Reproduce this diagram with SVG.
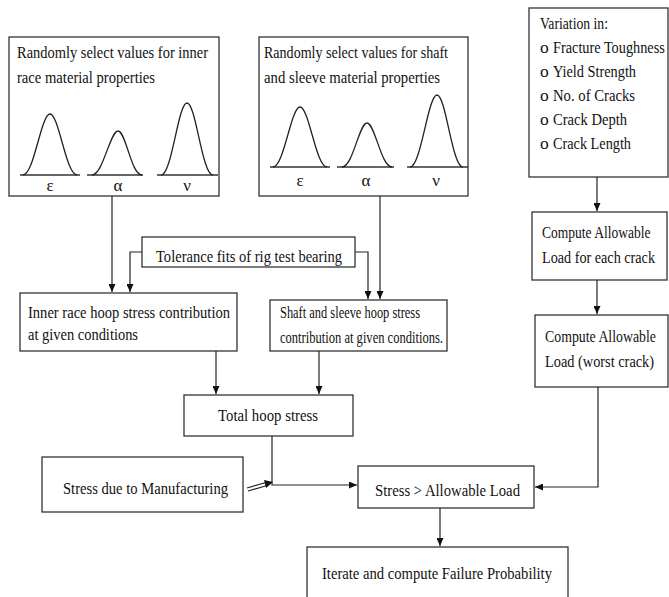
<svg xmlns="http://www.w3.org/2000/svg" width="669" height="597" viewBox="0 0 669 597">
<defs>
<marker id="ah" markerWidth="8" markerHeight="7" refX="8" refY="3.5" orient="auto" markerUnits="userSpaceOnUse">
<path d="M0,0 L8,3.5 L0,7 z" fill="#111"/>
</marker>
<style>
.box{fill:#fff;stroke:#333;stroke-width:1.3}
.t{font-family:"Liberation Serif","Times New Roman",serif;font-size:17.5px;fill:#111}
.s{font-family:"Liberation Serif","Times New Roman",serif;font-size:16.5px;fill:#111}
.g{font-family:"Liberation Serif","DejaVu Serif",serif;font-size:17px;fill:#111;text-anchor:middle}
.c{fill:none;stroke:#222;stroke-width:1.3}
.bl{fill:none;stroke:#333;stroke-width:1.6}
.ln{fill:none;stroke:#222;stroke-width:1.2}
</style>
</defs>
<rect width="669" height="597" fill="#fff"/>

<g id="inner-props">
<rect class="box" x="9" y="37" width="210" height="159"/>
<text class="t" x="17" y="58" textLength="191" lengthAdjust="spacingAndGlyphs">Randomly select values for inner</text>
<text class="t" x="17" y="83" textLength="138" lengthAdjust="spacingAndGlyphs">race material properties</text>
<line class="bl" x1="20" y1="175" x2="80" y2="175"/>
<path class="c" d="M23,175 C34,175 41,114 50,114 C59,114 66,175 77,175"/>
<line class="bl" x1="87" y1="175" x2="143" y2="175"/>
<path class="c" d="M92,175 C103,175 110,131 118,131 C126,131 131,175 142,175"/>
<line class="bl" x1="157" y1="175" x2="218" y2="175"/>
<path class="c" d="M161,175 C172,175 178,103 187,103 C196,103 202,175 213,175"/>
<text class="g" x="50" y="191">ε</text>
<text class="g" x="118" y="191">α</text>
<text class="g" x="187" y="191">ν</text>
</g>

<g id="shaft-props">
<rect class="box" x="259" y="37" width="209" height="159"/>
<text class="t" x="264" y="58" textLength="184" lengthAdjust="spacingAndGlyphs">Randomly select values for shaft</text>
<text class="t" x="264" y="83" textLength="176" lengthAdjust="spacingAndGlyphs">and sleeve material properties</text>
<line class="bl" x1="270" y1="167" x2="330" y2="167"/>
<path class="c" d="M273,167 C284,167 291,107 300,107 C309,107 316,167 327,167"/>
<line class="bl" x1="337" y1="167" x2="394" y2="167"/>
<path class="c" d="M342,167 C353,167 359,123 367,123 C375,123 381,167 392,167"/>
<line class="bl" x1="407" y1="167" x2="468" y2="167"/>
<path class="c" d="M410,167 C421,167 428,95 437,95 C446,95 452,167 463,167"/>
<text class="g" x="300" y="186">ε</text>
<text class="g" x="366" y="186">α</text>
<text class="g" x="436" y="186">ν</text>
</g>

<g id="variation">
<rect class="box" x="529" y="8" width="139" height="169"/>
<text class="t" x="540" y="29" textLength="68" lengthAdjust="spacingAndGlyphs">Variation in:</text>
<text class="t" x="540" y="53">o</text>
<text class="t" transform="translate(553,53) scale(0.81,1)" textLength="138" lengthAdjust="spacingAndGlyphs">Fracture Toughness</text>
<text class="t" x="540" y="77">o</text>
<text class="t" x="553" y="77" textLength="83" lengthAdjust="spacingAndGlyphs">Yield Strength</text>
<text class="t" x="540" y="101">o</text>
<text class="t" x="553" y="101" textLength="82" lengthAdjust="spacingAndGlyphs">No. of Cracks</text>
<text class="t" x="540" y="125">o</text>
<text class="t" x="553" y="125" textLength="74" lengthAdjust="spacingAndGlyphs">Crack Depth</text>
<text class="t" x="540" y="149">o</text>
<text class="t" x="553" y="149" textLength="78" lengthAdjust="spacingAndGlyphs">Crack Length</text>
</g>

<g id="tolerance">
<rect class="box" x="142" y="237" width="213" height="30"/>
<text class="t" x="156" y="262" textLength="186" lengthAdjust="spacingAndGlyphs">Tolerance fits of rig test bearing</text>
</g>

<g id="inner-hoop">
<rect class="box" x="20" y="293" width="217" height="58"/>
<text class="t" x="28" y="318" textLength="202" lengthAdjust="spacingAndGlyphs">Inner race hoop stress contribution</text>
<text class="t" x="28" y="340" textLength="110" lengthAdjust="spacingAndGlyphs">at given conditions</text>
</g>

<g id="shaft-hoop">
<rect class="box" x="270" y="300" width="177" height="51"/>
<text class="s" x="280" y="318" textLength="140" lengthAdjust="spacingAndGlyphs">Shaft and sleeve hoop stress</text>
<text class="s" x="280" y="343" textLength="163" lengthAdjust="spacingAndGlyphs">contribution at given conditions.</text>
</g>

<g id="total-hoop">
<rect class="box" x="184" y="395" width="169" height="41"/>
<text class="t" x="218" y="421" textLength="100" lengthAdjust="spacingAndGlyphs">Total hoop stress</text>
</g>

<g id="manufacturing">
<rect class="box" x="42" y="457" width="201" height="55"/>
<text class="t" x="63" y="494" textLength="165" lengthAdjust="spacingAndGlyphs">Stress due to Manufacturing</text>
</g>

<g id="compare">
<rect class="box" x="358" y="466" width="176" height="42"/>
<text class="t" x="375" y="496" textLength="145" lengthAdjust="spacingAndGlyphs">Stress &gt; Allowable Load</text>
</g>

<g id="iterate">
<rect class="box" x="307" y="547" width="261" height="52"/>
<text class="t" x="322" y="579" textLength="230" lengthAdjust="spacingAndGlyphs">Iterate and compute Failure Probability</text>
</g>

<g id="allow-each">
<rect class="box" x="532" y="212" width="135" height="68"/>
<text class="t" transform="translate(542,238) scale(0.77,1)" textLength="141" lengthAdjust="spacingAndGlyphs">Compute Allowable</text>
<text class="t" transform="translate(542,263) scale(0.81,1)" textLength="139.5" lengthAdjust="spacingAndGlyphs">Load for each crack</text>
</g>

<g id="allow-worst">
<rect class="box" x="535" y="315" width="133" height="72"/>
<text class="t" transform="translate(545,342) scale(0.79,1)" textLength="140.5" lengthAdjust="spacingAndGlyphs">Compute Allowable</text>
<text class="t" transform="translate(545,367) scale(0.82,1)" textLength="133" lengthAdjust="spacingAndGlyphs">Load (worst crack)</text>
</g>

<g id="connectors">
<path class="ln" d="M112,196 V292" marker-end="url(#ah)"/>
<path class="ln" d="M380,196 V299" marker-end="url(#ah)"/>
<path class="ln" d="M142,252 H130 V292" marker-end="url(#ah)"/>
<path class="ln" d="M355,252 H368 V299" marker-end="url(#ah)"/>
<path class="ln" d="M216,351 V394" marker-end="url(#ah)"/>
<path class="ln" d="M319,351 V394" marker-end="url(#ah)"/>
<path class="ln" d="M272,436 V485 H357" marker-end="url(#ah)"/>
<path class="ln" d="M247,488 L266,482.5"/>
<path class="ln" d="M248,491 L267,485.5"/>
<path d="M273,482 L264,480 L266,488 z" fill="#111"/>
<path class="ln" d="M597,177 V211" marker-end="url(#ah)"/>
<path class="ln" d="M597,280 V314" marker-end="url(#ah)"/>
<path class="ln" d="M598,387 V487 H535" marker-end="url(#ah)"/>
<path class="ln" d="M440,508 V546" marker-end="url(#ah)"/>
</g>
</svg>
